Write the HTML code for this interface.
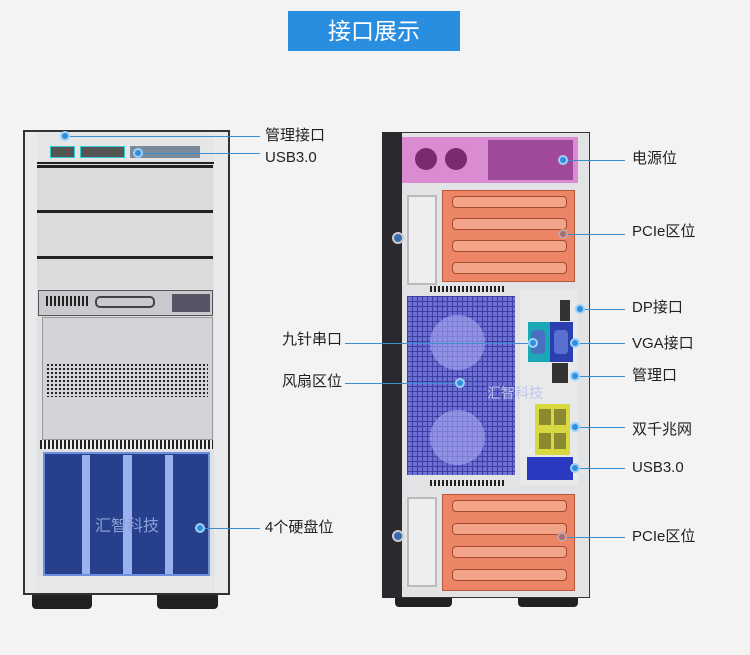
<!DOCTYPE html>
<html><head><meta charset="utf-8"><style>
body{margin:0;width:750px;height:655px;background:#f3f3f3;position:relative;overflow:hidden;font-family:"Liberation Sans","Noto Sans CJK SC",sans-serif}
div{position:absolute;box-sizing:border-box}
.l{font-size:15px;color:#222;line-height:18px;white-space:nowrap}
.ln{height:1px;background:#3a8fd0}
.dot{width:10px;height:10px;border-radius:50%;background:#2f8ee0;border:2px solid #9fd0f5}
.grid{background-color:#6d6fd6;background-image:linear-gradient(#3b3fa0 1px,transparent 1px),linear-gradient(90deg,#3b3fa0 1px,transparent 1px);background-size:5px 5px}
.pcie{background:#ec8466;border:1px solid #b85a40}
.slot{background:#f3a488;border:1px solid #a04a30;border-radius:4px;height:12px}
.vent{background-image:linear-gradient(90deg,#222 2px,transparent 2px);background-size:4px 100%}
</style></head><body>
<div style="left:288px;top:11px;width:172px;height:40px;background:#2a8ee0;color:#fff;font-size:23px;text-align:center;line-height:40px">接口展示</div>

<!-- LEFT SERVER -->
<div style="left:32px;top:592px;width:60px;height:17px;background:#222;border-radius:4px"></div>
<div style="left:157px;top:592px;width:61px;height:17px;background:#222;border-radius:4px"></div>
<div style="left:23px;top:130px;width:207px;height:465px;background:#dfe1e3;border:2px solid #333"></div>
<div style="left:25px;top:132px;width:12px;height:461px;background:#e9eaeb"></div>
<div style="left:214px;top:132px;width:14px;height:461px;background:#e9eaeb"></div>
<div style="left:37px;top:132px;width:177px;height:32px;background:#e4e6e8;border-bottom:2px solid #222"></div>
<div style="left:50px;top:146px;width:25px;height:12px;background:#555;border:1px solid #3cc"></div>
<div style="left:80px;top:146px;width:45px;height:12px;background:#555;border:1px solid #3cc"></div>
<div style="left:130px;top:146px;width:70px;height:12px;background:#7a8a9a"></div>
<div style="left:37px;top:165px;width:176px;height:3px;background:#222"></div>
<div style="left:37px;top:168px;width:176px;height:42px;background:#d9dbdd"></div>
<div style="left:37px;top:210px;width:176px;height:3px;background:#222"></div>
<div style="left:37px;top:213px;width:176px;height:43px;background:#d9dbdd"></div>
<div style="left:37px;top:256px;width:176px;height:3px;background:#222"></div>
<div style="left:37px;top:259px;width:176px;height:30px;background:#d9dbdd"></div>
<div style="left:38px;top:290px;width:175px;height:26px;background:#c8cacd;border:1px solid #555"></div>
<div class="vent" style="left:46px;top:296px;width:42px;height:10px"></div>
<div style="left:95px;top:296px;width:60px;height:12px;border:2px solid #444;border-radius:5px"></div>
<div style="left:172px;top:294px;width:38px;height:18px;background:#556"></div>
<div style="left:42px;top:317px;width:171px;height:123px;background:#d2d4d7;border:1px solid #999"></div>
<div style="left:47px;top:362px;width:161px;height:35px;background-color:#d2d4d7;background-image:linear-gradient(#d2d4d7 2px,transparent 2px),linear-gradient(90deg,#222 2px,transparent 2px);background-size:4px 4px,4px 4px"></div>
<div class="vent" style="left:40px;top:440px;width:173px;height:9px;background-color:#eee"></div>
<div style="left:43px;top:452px;width:167px;height:124px;background:#27408c;border:2px solid #6e8ee0"></div>
<div style="left:82px;top:455px;width:8px;height:119px;background:#9bb0ee"></div>
<div style="left:123px;top:455px;width:9px;height:119px;background:#9bb0ee"></div>
<div style="left:165px;top:455px;width:8px;height:119px;background:#9bb0ee"></div>
<div style="left:95px;top:512px;color:#8f9fd8;font-size:16px">汇智科技</div>
<div style="left:37px;top:576px;width:176px;height:17px;background:#e6e7e8"></div>

<div class="ln" style="left:65px;top:136px;width:195px"></div>
<div class="dot" style="left:60px;top:131px"></div>
<div class="ln" style="left:138px;top:153px;width:122px"></div>
<div class="dot" style="left:133px;top:148px"></div>
<div class="ln" style="left:200px;top:528px;width:60px"></div>
<div class="dot" style="left:195px;top:523px"></div>
<div class="l" style="left:265px;top:127px">管理接口</div>
<div class="l" style="left:265px;top:149px">USB3.0</div>
<div class="l" style="left:282px;top:331px">九针串口</div>
<div class="l" style="left:282px;top:373px">风扇区位</div>
<div class="l" style="left:265px;top:519px">4个硬盘位</div>

<!-- RIGHT SERVER -->
<div style="left:395px;top:592px;width:57px;height:15px;background:#222;border-radius:4px"></div>
<div style="left:518px;top:592px;width:60px;height:15px;background:#222;border-radius:4px"></div>
<div style="left:382px;top:132px;width:208px;height:466px;background:#e2e3e5;border:1px solid #333"></div>
<div style="left:382px;top:132px;width:20px;height:466px;background:#2a2a2e"></div>
<div style="left:402px;top:137px;width:176px;height:46px;background:#d98cd2"></div>
<div style="left:415px;top:148px;width:22px;height:22px;border-radius:50%;background:#7a2a70"></div>
<div style="left:445px;top:148px;width:22px;height:22px;border-radius:50%;background:#7a2a70"></div>
<div style="left:488px;top:140px;width:85px;height:40px;background:#a0489a"></div>
<div class="pcie" style="left:442px;top:190px;width:133px;height:92px"></div>
<div class="slot" style="left:452px;top:196px;width:115px"></div>
<div class="slot" style="left:452px;top:218px;width:115px"></div>
<div class="slot" style="left:452px;top:240px;width:115px"></div>
<div class="slot" style="left:452px;top:262px;width:115px"></div>
<div style="left:407px;top:195px;width:30px;height:90px;border:2px solid #bbb;background:#eee"></div>
<div style="left:392px;top:232px;width:12px;height:12px;border-radius:50%;background:#3a6ab0;border:2px solid #ccc"></div>
<div class="vent" style="left:430px;top:286px;width:75px;height:6px"></div>
<div class="grid" style="left:407px;top:296px;width:108px;height:179px"></div>
<div style="left:430px;top:315px;width:55px;height:55px;border-radius:50%;background:rgba(170,170,240,.6)"></div>
<div style="left:430px;top:410px;width:55px;height:55px;border-radius:50%;background:rgba(170,170,240,.6)"></div>
<div style="left:520px;top:290px;width:58px;height:195px;background:#e8e9ea"></div>
<div style="left:560px;top:300px;width:10px;height:21px;background:#333"></div>
<div style="left:528px;top:322px;width:22px;height:40px;background:#1aa8b8"></div>
<div style="left:550px;top:322px;width:23px;height:40px;background:#2a3fb0"></div>
<div style="left:531px;top:330px;width:14px;height:24px;background:#4a70c0;border-radius:4px"></div>
<div style="left:554px;top:330px;width:14px;height:24px;background:#5a70d0;border-radius:4px"></div>
<div style="left:552px;top:363px;width:16px;height:20px;background:#333"></div>
<div style="left:535px;top:404px;width:35px;height:51px;background:#d8d840"></div>
<div style="left:539px;top:409px;width:12px;height:16px;background:#8a8a30"></div>
<div style="left:554px;top:409px;width:12px;height:16px;background:#8a8a30"></div>
<div style="left:539px;top:433px;width:12px;height:16px;background:#8a8a30"></div>
<div style="left:554px;top:433px;width:12px;height:16px;background:#8a8a30"></div>
<div style="left:527px;top:457px;width:46px;height:23px;background:#2a3ac0"></div>
<div class="vent" style="left:430px;top:480px;width:75px;height:6px"></div>
<div class="pcie" style="left:442px;top:494px;width:133px;height:97px"></div>
<div class="slot" style="left:452px;top:500px;width:115px"></div>
<div class="slot" style="left:452px;top:523px;width:115px"></div>
<div class="slot" style="left:452px;top:546px;width:115px"></div>
<div class="slot" style="left:452px;top:569px;width:115px"></div>
<div style="left:407px;top:497px;width:30px;height:90px;border:2px solid #bbb;background:#eee"></div>
<div style="left:392px;top:530px;width:12px;height:12px;border-radius:50%;background:#3a6ab0;border:2px solid #ccc"></div>
<div style="left:487px;top:383px;color:#c0c4e8;font-size:14px">汇智科技</div>

<div class="ln" style="left:563px;top:160px;width:62px"></div><div class="dot" style="left:558px;top:155px"></div>
<div class="ln" style="left:563px;top:234px;width:62px"></div><div class="dot" style="left:558px;top:229px;background:#a07070;border-color:#c9a0a0"></div>
<div class="ln" style="left:580px;top:309px;width:45px"></div><div class="dot" style="left:575px;top:304px"></div>
<div class="ln" style="left:575px;top:343px;width:50px"></div><div class="dot" style="left:570px;top:338px"></div>
<div class="ln" style="left:345px;top:343px;width:188px"></div><div class="dot" style="left:528px;top:338px"></div>
<div class="ln" style="left:345px;top:383px;width:115px"></div><div class="dot" style="left:455px;top:378px"></div>
<div class="ln" style="left:575px;top:376px;width:50px"></div><div class="dot" style="left:570px;top:371px"></div>
<div class="ln" style="left:575px;top:427px;width:50px"></div><div class="dot" style="left:570px;top:422px"></div>
<div class="ln" style="left:575px;top:468px;width:50px"></div><div class="dot" style="left:570px;top:463px"></div>
<div class="ln" style="left:562px;top:537px;width:63px"></div><div class="dot" style="left:557px;top:532px;background:#a07070;border-color:#c9a0a0"></div>

<div class="l" style="left:632px;top:150px">电源位</div>
<div class="l" style="left:632px;top:223px">PCIe区位</div>
<div class="l" style="left:632px;top:299px">DP接口</div>
<div class="l" style="left:632px;top:335px">VGA接口</div>
<div class="l" style="left:632px;top:367px">管理口</div>
<div class="l" style="left:632px;top:421px">双千兆网</div>
<div class="l" style="left:632px;top:459px">USB3.0</div>
<div class="l" style="left:632px;top:528px">PCIe区位</div>
</body></html>
